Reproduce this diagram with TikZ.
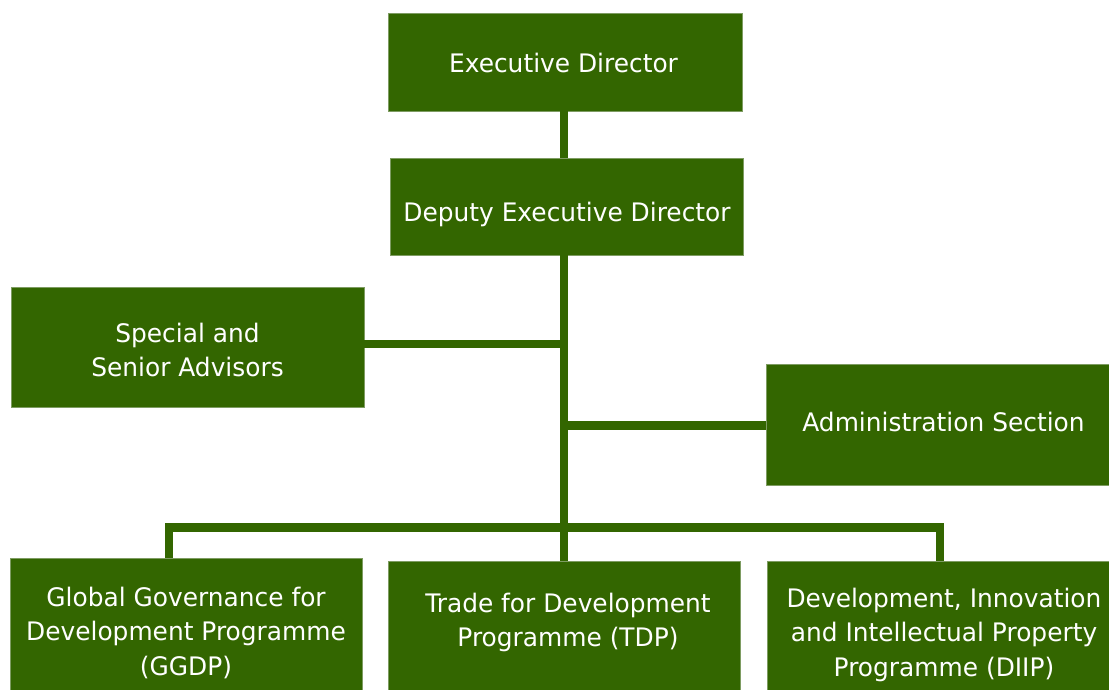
\documentclass[tikz,border=0pt]{standalone}
\usepackage{fontspec}
\setmainfont{DejaVu Sans}[FakeStretch=0.975]
\definecolor{orggreen}{HTML}{336600}
\definecolor{orgedge}{HTML}{7E9C62}
\begin{document}
\begin{tikzpicture}[x=1pt,y=-1pt,
  unit/.style={rectangle, fill=orggreen, draw=orgedge, line width=0.6pt, inner sep=0pt},
  caption/.style={text=white, font=\fontsize{25.5}{34.5}\selectfont, align=center, inner sep=0pt, anchor=north},
  link/.style={draw=orggreen, line width=8.5pt}]
\clip (0,0) rectangle (1109,689);

% units
\node[unit, minimum width=354pt, minimum height=98pt]  (ed)   at (565,62)     {};
\node[unit, minimum width=353pt, minimum height=97pt]  (ded)  at (566.5,206.5) {};
\node[unit, minimum width=353pt, minimum height=120pt] (sa)   at (187.5,347)  {};
\node[unit, minimum width=355pt, minimum height=121pt] (adm)  at (943.5,424.5) {};
\node[unit, minimum width=352pt, minimum height=144pt] (ggdp) at (186,630)    {};
\node[unit, minimum width=352pt, minimum height=142pt] (tdp)  at (564,632)    {};
\node[unit, minimum width=355pt, minimum height=142pt] (diip) at (944.5,632)  {};

% captions
\node[caption] (ed-t)   at (563.5,52.9)  {Executive Director};
\node[caption] (ded-t)  at (567,202.3)   {Deputy Executive Director};
\node[caption] (sa-t)   at (187.5,322.6) {Special and\\Senior Advisors};
\node[caption] (adm-t)  at (943.5,412.3) {Administration Section};
\node[caption] (ggdp-t) at (186,586.6)   {Global Governance for\\Development Programme\\(GGDP)};
\node[caption] (tdp-t)  at (568,592.6)   {Trade for Development\\Programme (TDP)};
\node[caption] (diip-t) at (944,587.6)   {Development, Innovation\\and Intellectual Property\\Programme (DIIP)};

% junction points on the trunk and the programme bus
\coordinate (sj)  at (564,344);
\coordinate (aj)  at (564,425.5);
\coordinate (bl)  at (169,527.5);
\coordinate (br)  at (940,527.5);

% connectors
\draw[link] (ed.south -| sj) -- (ded.north -| sj);
\draw[link] (ded.south -| sj) -- (tdp.north -| sj);
\draw[link] (sa.east |- sj) -- (sj);
\draw[link] (aj) -- (adm.west |- aj);
\draw[link] (ggdp.north -| bl) -- (bl) -- (br) -- (diip.north -| br);
\end{tikzpicture}
\end{document}
